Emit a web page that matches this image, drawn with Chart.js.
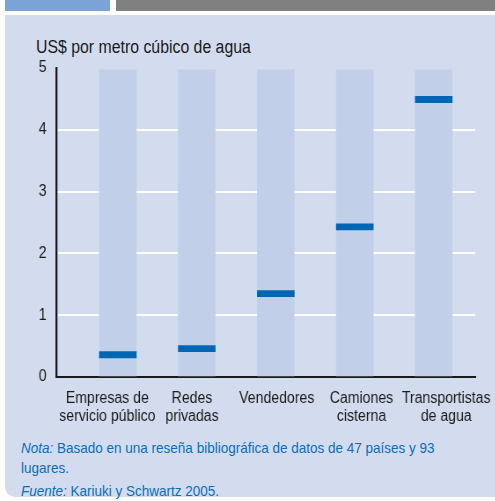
<!DOCTYPE html>
<html lang="es">
<head>
<meta charset="UTF-8" />
<title>Precio del agua</title>
<script src="https://cdn.jsdelivr.net/npm/chart.js"></script>
<style>
  body { margin: 0; background: #fff; }
  #wrap { position: relative; width: 495px; height: 501px; overflow: hidden;
          font-family: 'Liberation Sans', Arial, sans-serif; }
  .hdr-blue { position: absolute; left: 5px; top: 0; width: 105px; height: 11px; background: #7ba3d6; }
  .hdr-gray { position: absolute; left: 116px; top: 0; width: 379px; height: 11px; background: #808080; }
  .panel { position: absolute; left: 5px; top: 15px; width: 490px; height: 482px; background: #d3dcee;
           border-bottom-left-radius: 10px; }
  /* narrow look: plain sans squeezed sideways */
  .narrow { position: absolute; white-space: nowrap; transform-origin: 0 0; }
  .unit { left: 36px; top: 37px; font-size: 18px; line-height: 20px; color: #1a1a1a; transform: scaleX(0.88); }
  .note { left: 21px; font-size: 15px; line-height: 20px; color: #0b6db7; transform: scaleX(0.9); }
  .note i { font-style: italic; }
  #squeeze { position: absolute; left: 0; top: 0; width: 563px; height: 501px;
             transform: scaleX(0.88); transform-origin: 0 0; }
</style>
</head>
<body>
<div id="wrap">
  <div class="hdr-blue"></div>
  <div class="hdr-gray"></div>
  <div class="panel"></div>
  <div class="narrow unit">US$ por metro cúbico de agua</div>
  <div class="narrow note" style="top:438px;"><i>Nota:</i> Basado en una reseña bibliográfica de datos de 47 países y 93<br>lugares.</div>
  <div class="narrow note" style="top:481px;"><i>Fuente:</i> Kariuki y Schwartz 2005.</div>
  <div id="squeeze"><canvas id="chart" width="563" height="501"></canvas></div>
</div>

<script>
  const categories = [
    ['Empresas de', 'servicio público'],
    ['Redes', 'privadas'],
    ['Vendedores'],
    ['Camiones', 'cisterna'],
    ['Transportistas', 'de agua'],
  ]
  const prices = [0.36, 0.46, 1.35, 2.43, 4.49]
  const yTicks = [0, 1, 2, 3, 4, 5]
  const columnTop = 4.97
  const markerHalf = 0.05

  const font = "'Liberation Sans', Arial, sans-serif"

  new Chart(document.getElementById('chart'), {
    type: 'bar',
    data: {
      datasets: [
        {
          label: 'precio',
          data: prices.map((v, i) => ({ x: i, y: [v - markerHalf, v + markerHalf] })),
          backgroundColor: '#0066b3',
          barThickness: 42,
          grouped: false,
        },
        {
          label: 'fondo',
          data: prices.map((v, i) => ({ x: i, y: columnTop })),
          backgroundColor: '#c1d0e8',
          barThickness: 42,
          grouped: false,
        },
      ],
    },
    options: {
      responsive: false,
      animation: false,
      layout: { padding: { top: 68, right: 23, bottom: 74, left: 0 } },
      plugins: { legend: { display: false }, tooltip: { enabled: false } },
      scales: {
        // positions the columns
        x: {
          type: 'linear',
          display: false,
          offset: false,
          min: -0.7785,
          max: 4.525,
        },
        // the labels sit a little wider apart than the columns
        labels: {
          type: 'linear',
          position: 'bottom',
          offset: false,
          min: -0.6018,
          max: 4.342,
          afterBuildTicks: (axis) => { axis.ticks = categories.map((c, i) => ({ value: i })) },
          afterFit: (axis) => {
            axis.height = 50
            axis.paddingLeft = 0
            axis.paddingRight = 0
          },
          grid: { display: false, drawTicks: false },
          border: { display: true, color: '#1a1a1a', width: 2 },
          ticks: {
            autoSkip: false,
            maxRotation: 0,
            padding: 12,
            color: '#1a1a1a',
            font: { family: font, size: 16, lineHeight: 1.16 },
            callback: (v) => categories[v] || '',
          },
        },
        y: {
          min: 0,
          max: 5,
          afterBuildTicks: (axis) => { axis.ticks = yTicks.map((v) => ({ value: v })) },
          afterFit: (axis) => { axis.width = 64 },
          grid: {
            drawTicks: false,
            lineWidth: 2,
            color: (ctx) => (ctx.tick && ctx.tick.value > 0 && ctx.tick.value < 5 ? '#ffffff' : 'rgba(0,0,0,0)'),
          },
          border: { display: true, color: '#1a1a1a', width: 2.3 },
          ticks: {
            padding: 11,
            color: '#1a1a1a',
            font: { family: font, size: 16 },
          },
        },
      },
    },
  })
</script>
</body>
</html>
